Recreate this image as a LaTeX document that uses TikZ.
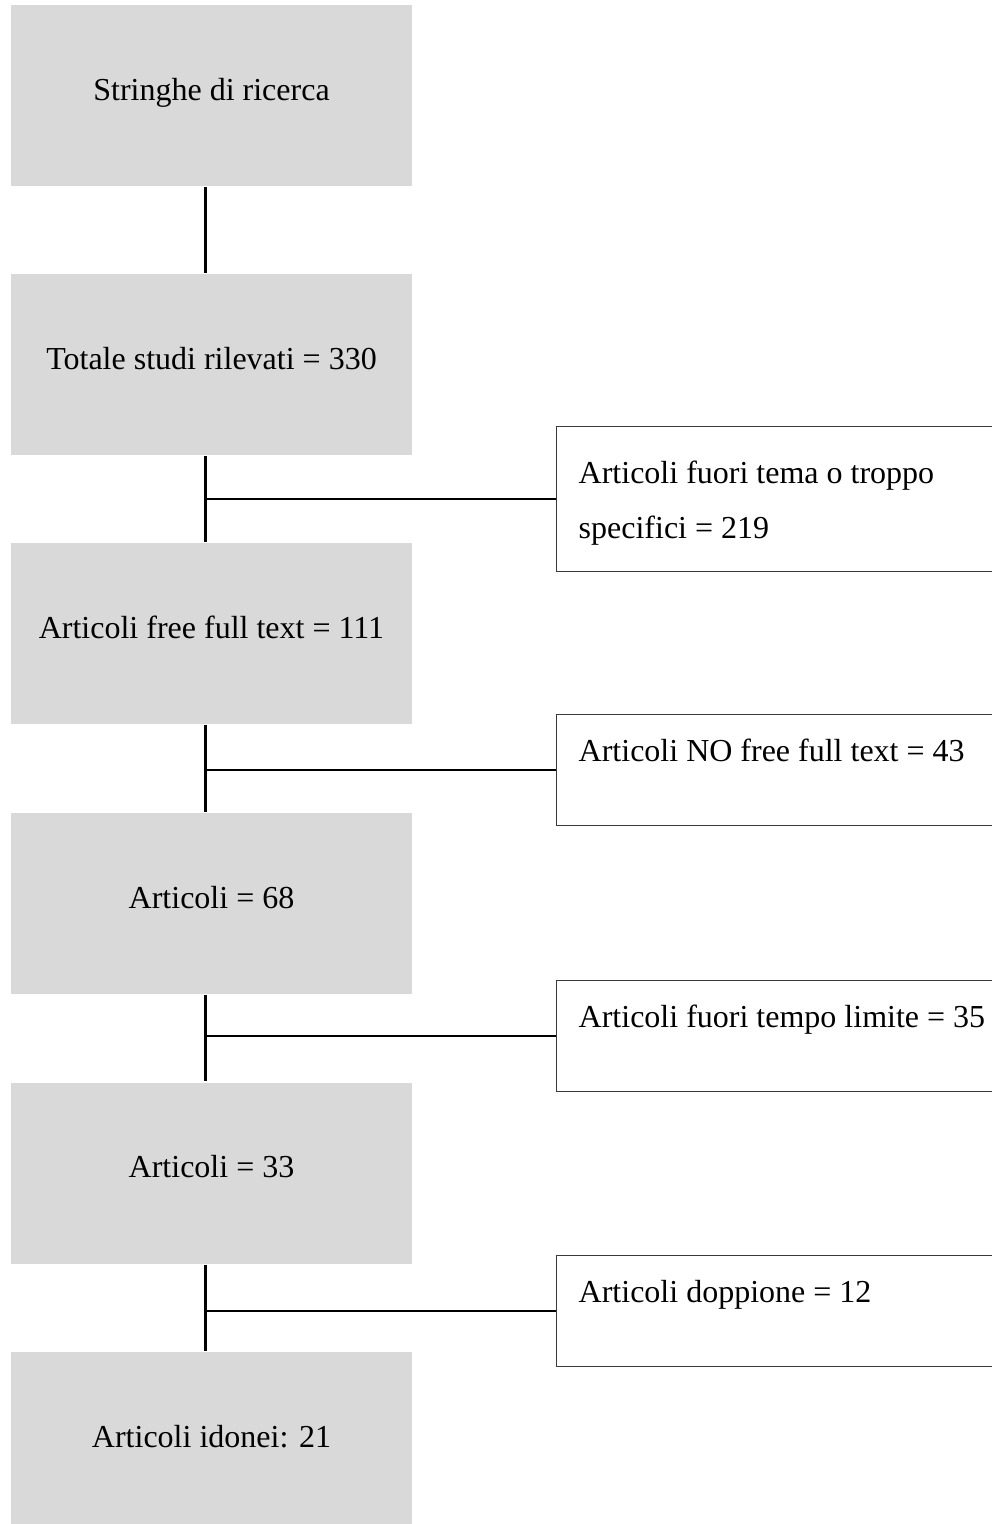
\documentclass[tikz,border=0pt]{standalone}
\usepackage{fontspec}
\setmainfont{Liberation Serif}
\definecolor{stageGray}{HTML}{D9D9D9}
\definecolor{edgeGray}{HTML}{3A3A3A}

\begin{document}
\begin{tikzpicture}[x=1pt,y=-1pt,font=\fontsize{32}{55}\selectfont,
    stagebox/.style={fill=stageGray,draw=none,inner sep=0pt,
        minimum width=401pt,minimum height=181pt,text height=20pt,text depth=11pt},
    exclbox/.style={draw=edgeGray,line width=1.4pt,fill=white,anchor=north west,
        text width=430pt,align=flush left,inner xsep=22pt,inner ysep=0pt,
        text height=47pt,text depth=64pt},
    link/.style={black,line width=2.2pt}]
        \useasboundingbox (0,0) rectangle (992,1524);

        % Main stages
        \node[stagebox] (b1) at (211.5,95.5)  {Stringhe di ricerca};
        \node[stagebox] (b2) at (211.5,364.5) {Totale studi rilevati = 330};
        \node[stagebox] (b3) at (211.5,633.5) {Articoli free full text = 111};
        \node[stagebox] (b4) at (211.5,903.5) {Articoli = 68};
        \node[stagebox] (b5) at (211.5,1173)  {Articoli = 33};
        \node[stagebox] (b6) at (211.5,1442.5) {Articoli idonei: 21};

        % Excluded articles
        \node[exclbox,text height=57pt,text depth=88pt] (s1) at (556,426)
            {Articoli fuori tema o troppo\\specifici = 219};
        \node[exclbox] (s2) at (556,714)  {Articoli NO free full text = 43};
        \node[exclbox] (s3) at (556,980)  {Articoli fuori tempo limite = 35};
        \node[exclbox] (s4) at (556,1255) {Articoli doppione = 12};

        % Spine between stages
        \coordinate (spine) at (205.5,0);
        \foreach \a/\b in {b1/b2,b2/b3,b3/b4,b4/b5,b5/b6}{
            \draw[link,shorten <=1pt,shorten >=1pt] (\a.south -| spine) -- (\b.north -| spine);
        }

        % Branches to excluded boxes
        \foreach \s in {s1,s2,s3,s4}{
            \draw[link] (\s.west -| spine) -- (\s.west);
        }
    \end{tikzpicture}
\end{document}
